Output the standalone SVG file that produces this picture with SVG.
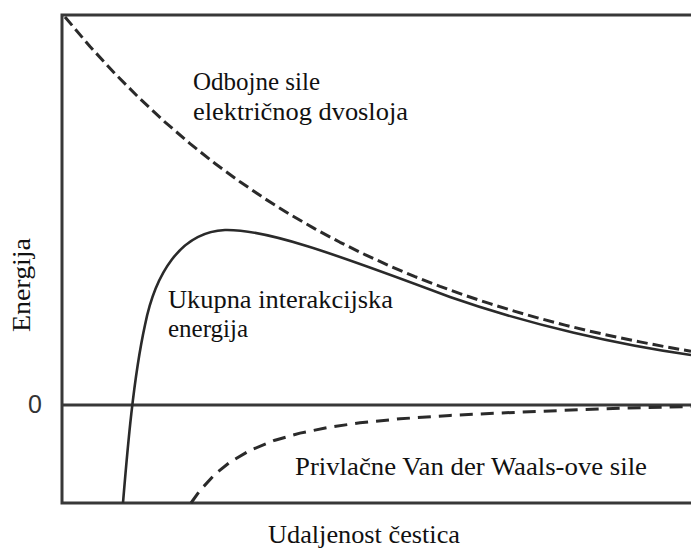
<svg xmlns="http://www.w3.org/2000/svg" width="691" height="550" viewBox="0 0 691 550">
<style>
.ax{fill:none;stroke:#383838;stroke-width:3}
.cv{fill:none;stroke:#2a2a2a;stroke-width:2.6;stroke-linejoin:round;stroke-linecap:butt}
.dash{stroke-width:3;stroke-dasharray:11 5}
.dash2{stroke-width:3;stroke-dasharray:13 8}
.t{font-family:"Liberation Serif","Times New Roman",serif;font-size:25px;fill:#111}
.s{font-family:"Liberation Sans",Arial,sans-serif;font-size:25px;fill:#333}
</style>
<rect width="691" height="550" fill="#fff"/>
<g id="axes">
<polyline class="ax" points="691,15 62,15 62,503 691,503"/>
<line class="ax" x1="62" y1="405" x2="691" y2="405" stroke-width="2.5"/>
</g>
<g id="connectors">
<polyline id="repulsion" class="cv dash" points="65,17 90,46.5 115,73.7 140,98.8 165,122.1 190,143.6 215,163.5 240,181.8 265,198.8 290,214.5 315,228.9 340,242.3 365,254.6 390,266.1 415,276.6 440,286.4 465,295.4 490,303.7 515,311.4 540,318.5 565,325.1 590,331.2 615,336.8 640,341.9 665,346.7 691,351.3"/>
<path id="total" class="cv" d="M123,503 C127,455 133,380 145,325 C155,275 180,232 225,230 C265,229 330,252 450,297 C530,325 620,345 691,355"/>
<polyline id="attraction" class="cv dash2" points="191,503 200,490.5 215,474.2 230,462.1 250,450.4 275,440.2 300,433.1 330,427.1 360,422.8 400,418.8 450,415.4 500,413 560,410.5 620,408.3 691,406.5"/>
</g>
<g id="label-repulsion">
<text class="t" x="193" y="90">Odbojne sile</text>
<text class="t" x="193" y="120" textLength="215" lengthAdjust="spacingAndGlyphs">električnog dvosloja</text>
</g>
<g id="label-total">
<text class="t" x="168" y="308" textLength="225" lengthAdjust="spacingAndGlyphs">Ukupna interakcijska</text>
<text class="t" x="168" y="337">energija</text>
</g>
<g id="label-attraction">
<text class="t" x="295" y="475" textLength="352" lengthAdjust="spacingAndGlyphs">Privlačne Van der Waals-ove sile</text>
</g>
<g id="label-x">
<text class="t" x="268" y="543" textLength="192" lengthAdjust="spacingAndGlyphs">Udaljenost čestica</text>
</g>
<g id="label-y">
<text class="t" transform="translate(30,332) rotate(-90)" textLength="94" lengthAdjust="spacingAndGlyphs">Energija</text>
</g>
<g id="label-zero">
<text class="s" x="28" y="413">0</text>
</g>
</svg>
